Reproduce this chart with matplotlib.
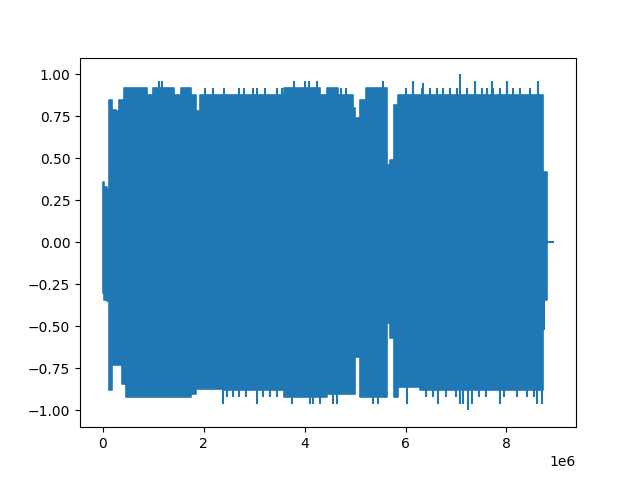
import matplotlib
matplotlib.use("Agg")
import matplotlib.pyplot as plt

# waveform envelope (sample index, upper peak, lower peak)
seg_start = [0, 30000, 80000, 130000, 190000, 270000, 330000, 390000, 430000,
             470000, 890000, 1000000, 1420000, 1550000, 1760000, 1860000,
             1930000, 2400000, 3600000, 4300000, 4440000, 4660000, 4960000,
             5000000, 5100000, 5220000, 5630000, 5690000, 5780000, 5850000,
             6280000, 8720000]
seg_top = [0.36, 0.33, 0.31, 0.85, 0.79, 0.78, 0.85, 0.85, 0.92,
           0.92, 0.88, 0.92, 0.88, 0.92, 0.88, 0.78,
           0.88, 0.88, 0.92, 0.88, 0.92, 0.88, 0.80,
           0.74, 0.85, 0.92, 0.46, 0.49, 0.82, 0.88,
           0.88, 0.42]
seg_bottom = [-0.30, -0.34, -0.35, -0.88, -0.73, -0.73, -0.73, -0.84, -0.84,
              -0.92, -0.92, -0.92, -0.92, -0.92, -0.90, -0.87,
              -0.87, -0.88, -0.92, -0.92, -0.90, -0.90, -0.90,
              -0.68, -0.92, -0.92, -0.48, -0.57, -0.92, -0.86,
              -0.88, -0.34]
seg_end = 8800000

# bars reaching a bit above / below the envelope
bar_up_x = [2020000, 2180000, 2410000, 2710000, 2810000, 2970000, 3050000,
            3210000, 3450000, 3550000, 4720000, 4820000, 6000000, 6150000,
            6320000, 6480000, 6620000, 6740000, 6880000, 7020000, 7220000,
            7370000, 7520000, 7610000, 7730000, 7870000, 8010000, 8130000,
            8270000, 8470000, 8620000]
bar_up_y = [0.92] * 31
bar_down_x = [2460000, 2580000, 2710000, 2850000, 3170000, 3310000, 3450000,
              6400000, 6550000, 6800000, 7000000, 7450000, 7600000, 7950000,
              8200000, 8400000, 8550000]
bar_down_y = [-0.92] * 17

# isolated peaks sticking out of the envelope
peak_up_x = [1110000, 1180000, 3800000, 4000000, 4080000, 4240000, 5550000,
             6140000, 6340000, 7080000, 7370000, 7720000, 8010000, 8620000]
peak_up_y = [0.96, 0.96, 0.96, 0.96, 0.96, 0.96, 0.96,
             0.96, 0.95, 1.00, 0.96, 0.96, 0.96, 0.96]
peak_down_x = [2380000, 3050000, 3760000, 4100000, 4160000, 4300000, 4560000,
               4640000, 5350000, 5450000, 6030000, 6640000, 7080000, 7140000,
               7230000, 7310000, 7870000, 8600000, 8700000]
peak_down_y = [-0.96, -0.96, -0.96, -0.96, -0.96, -0.96, -0.96,
               -0.96, -0.96, -0.96, -0.96, -0.96, -0.96, -0.96,
               -1.00, -0.96, -0.96, -0.96, -0.96]
peak_notch_x = [8740000]
peak_notch_y = [-0.52]

# silent tail at the end
tail_x = [8800000, 8930000]
tail_y = [0.0, 0.0]

color = '#1f77b4'
fig, ax = plt.subplots(figsize=(6.4, 4.8), dpi=100)

edges = seg_start + [seg_end]
tops = seg_top + [seg_top[-1]]
bots = seg_bottom + [seg_bottom[-1]]
ax.fill_between(edges, bots, tops, step='post', color=color, linewidth=1.2)

# the bars and peaks are just strokes of the same line
ax.vlines(bar_up_x, 0, bar_up_y, color=color, linewidth=1.5)
ax.vlines(bar_down_x, 0, bar_down_y, color=color, linewidth=1.5)
ax.vlines(peak_up_x, 0, peak_up_y, color=color, linewidth=1.5)
ax.vlines(peak_down_x, 0, peak_down_y, color=color, linewidth=1.5)
ax.vlines(peak_notch_x, 0, peak_notch_y, color=color, linewidth=1.5)

ax.plot(tail_x, tail_y, color=color, linewidth=1.5)

plt.savefig('out.png')
